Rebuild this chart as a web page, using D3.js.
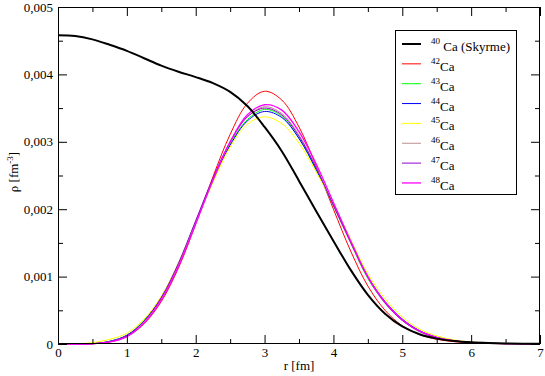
<!DOCTYPE html>
<html>
<head>
<meta charset="utf-8">
<script src="https://cdn.jsdelivr.net/npm/d3@7"></script>
<style>
  body { margin: 0; background: #fff; }
  svg { display: block; }
  svg text { font-family: "Liberation Serif", "Times New Roman", Times, Tinos, "DejaVu Serif", "Noto Serif", serif; fill: #000; }
</style>
</head>
<body>
<div id="chart"></div>
<script>
const width = 545;
const height = 376;
const margin = { top: 7, bottom: 32, left: 58, right: 5 };
const serif = "'Liberation Serif', 'Times New Roman', Times, Tinos, 'DejaVu Serif', serif";

// radius grid [fm]
const radii = [0, 0.25, 0.5, 0.75, 1, 1.25, 1.5, 1.75, 2, 2.25, 2.5, 2.75, 3, 3.25, 3.5,
    3.75, 4, 4.25, 4.5, 4.75, 5, 5.25, 5.5, 5.75, 6, 6.25, 6.5, 6.75, 7];

// densities in units of 1e-3 fm^-3
const ca40 = [4.58, 4.57, 4.52, 4.44, 4.35, 4.24, 4.13, 4.04, 3.96, 3.87, 3.74, 3.53, 3.22, 2.86, 2.42,
    1.97, 1.53, 1.10, 0.73, 0.45, 0.26, 0.145, 0.08, 0.045, 0.025, 0.014, 0.008, 0.005, 0.003];
const ca42 = [0, 0, 0.003, 0.03, 0.11, 0.30, 0.63, 1.13, 1.78, 2.48, 3.11, 3.57, 3.75, 3.62, 3.22,
    2.64, 2.00, 1.38, 0.86, 0.50, 0.27, 0.14, 0.07, 0.035, 0.017, 0.008, 0.004, 0.002, 0.001];
const ca43 = [0, 0, 0.005, 0.04, 0.13, 0.35, 0.70, 1.20, 1.82, 2.44, 2.97, 3.33, 3.48, 3.38, 3.05,
    2.58, 2.05, 1.50, 0.97, 0.61, 0.35, 0.19, 0.10, 0.05, 0.025, 0.012, 0.006, 0.003, 0.001];
const ca44 = [0, 0, 0.005, 0.04, 0.13, 0.34, 0.68, 1.18, 1.80, 2.42, 2.95, 3.31, 3.45, 3.36, 3.05,
    2.59, 2.06, 1.52, 1.00, 0.63, 0.37, 0.20, 0.10, 0.05, 0.025, 0.012, 0.006, 0.003, 0.001];
const ca45 = [0, 0.002, 0.02, 0.07, 0.16, 0.37, 0.71, 1.20, 1.80, 2.40, 2.92, 3.26, 3.37, 3.27, 2.98,
    2.55, 2.08, 1.55, 1.04, 0.67, 0.40, 0.22, 0.12, 0.06, 0.03, 0.015, 0.007, 0.003, 0.001];
const ca46 = [0, 0, 0.004, 0.035, 0.12, 0.33, 0.67, 1.17, 1.80, 2.44, 2.99, 3.37, 3.52, 3.42, 3.10,
    2.62, 2.06, 1.50, 0.98, 0.60, 0.35, 0.18, 0.09, 0.045, 0.022, 0.011, 0.005, 0.002, 0.001];
const ca47 = [0, 0, 0.004, 0.035, 0.12, 0.34, 0.69, 1.20, 1.83, 2.46, 3.00, 3.37, 3.50, 3.40, 3.08,
    2.61, 2.06, 1.51, 0.99, 0.61, 0.35, 0.19, 0.095, 0.047, 0.023, 0.011, 0.005, 0.002, 0.001];
const ca48 = [0, 0, 0.004, 0.03, 0.11, 0.31, 0.65, 1.15, 1.78, 2.43, 3.00, 3.40, 3.55, 3.47, 3.15,
    2.67, 2.10, 1.53, 1.00, 0.62, 0.36, 0.19, 0.10, 0.05, 0.024, 0.012, 0.006, 0.003, 0.001];

const massNumbers = ["40", "42", "43", "44", "45", "46", "47", "48"];
const legendSuffix = [" Ca (Skyrme)", "Ca", "Ca", "Ca", "Ca", "Ca", "Ca", "Ca"];
const xTicks = [0, 1, 2, 3, 4, 5, 6, 7];
const yTicks = [0, 1, 2, 3, 4, 5];

const series = [
    { name: "42", values: ca42, color: "#ff0000", w: 1 },
    { name: "43", values: ca43, color: "#00ff00", w: 1 },
    { name: "44", values: ca44, color: "#0000ff", w: 1 },
    { name: "45", values: ca45, color: "#ffff00", w: 1 },
    { name: "46", values: ca46, color: "#bc8f8f", w: 1 },
    { name: "47", values: ca47, color: "#9400d3", w: 1 },
    { name: "48", values: ca48, color: "#ff00ff", w: 1.3 },
    { name: "40", values: ca40, color: "#000000", w: 2 },
];
const legendColors = ["#000000", "#ff0000", "#00ff00", "#0000ff", "#ffff00", "#bc8f8f", "#9400d3", "#ff00ff"];
const legendWidths = [2, 1, 1, 1, 1, 1, 1, 1.3];

const svg = d3.select('#chart')
    .append('svg')
    .attr('width', width)
    .attr('height', height)
    .attr('font-family', serif);

const x = d3.scaleLinear()
    .domain([0, 7])
    .range([margin.left, width - margin.right]);

const y = d3.scaleLinear()
    .domain([0, 5])
    .range([height - margin.bottom, margin.top]);

const line = d3.line()
    .x((d, i) => x(radii[i]))
    .y(d => y(d))
    .curve(d3.curveCatmullRom.alpha(0.5));

svg.append("g")
    .selectAll("path")
    .data(series)
    .join("path")
        .attr("fill", "none")
        .attr("stroke", d => d.color)
        .attr("stroke-width", d => d.w)
        .attr("d", d => line(d.values));

// frame
svg.append("rect")
    .attr("x", x(0) + 0.5)
    .attr("y", y(5) + 0.5)
    .attr("width", x(7) - x(0) - 1)
    .attr("height", y(0) - y(5) - 1)
    .attr("fill", "none")
    .attr("stroke", "#000");

const minorX = d3.range(0.5, 7, 1);
const minorY = d3.range(0.5, 5, 1);
const fmtX = d3.format("d");
const fmtY = d => d === 0 ? "0" : (d / 1000).toFixed(3).replace(".", ",");

function styleAxis(g) {
    g.attr("font-family", serif).attr("font-size", 13);
    g.select(".domain").remove();
    g.selectAll(".tick line").attr("stroke", "#000");
    g.selectAll(".tick text").attr("fill", "#000").style("font-family", serif);
}

svg.append("g")
    .attr("transform", `translate(0,${y(0)})`)
    .call(d3.axisBottom(x).tickValues(xTicks).tickSize(-9).tickPadding(4).tickFormat(fmtX))
    .call(styleAxis);
svg.append("g")
    .attr("transform", `translate(0,${y(0)})`)
    .call(d3.axisBottom(x).tickValues(minorX).tickSize(-5).tickFormat(""))
    .call(styleAxis);
svg.append("g")
    .attr("transform", `translate(0,${y(5)})`)
    .call(d3.axisTop(x).tickValues(xTicks).tickSize(-9).tickFormat(""))
    .call(styleAxis);
svg.append("g")
    .attr("transform", `translate(0,${y(5)})`)
    .call(d3.axisTop(x).tickValues(minorX).tickSize(-5).tickFormat(""))
    .call(styleAxis);

svg.append("g")
    .attr("transform", `translate(${x(0)},0)`)
    .call(d3.axisLeft(y).tickValues(yTicks).tickSize(-9).tickPadding(5).tickFormat(fmtY))
    .call(styleAxis);
svg.append("g")
    .attr("transform", `translate(${x(0)},0)`)
    .call(d3.axisLeft(y).tickValues(minorY).tickSize(-5).tickFormat(""))
    .call(styleAxis);
svg.append("g")
    .attr("transform", `translate(${x(7)},0)`)
    .call(d3.axisRight(y).tickValues(yTicks).tickSize(-9).tickFormat(""))
    .call(styleAxis);
svg.append("g")
    .attr("transform", `translate(${x(7)},0)`)
    .call(d3.axisRight(y).tickValues(minorY).tickSize(-5).tickFormat(""))
    .call(styleAxis);

// axis titles
svg.append("text")
    .attr("x", (x(0) + x(7)) / 2)
    .attr("y", 370)
    .attr("text-anchor", "middle")
    .attr("font-size", "13px")
    .style("font-family", serif)
    .text("r [fm]");

const yTitle = svg.append("text")
    .attr("transform", `translate(18,172) rotate(-90)`)
    .attr("text-anchor", "middle")
    .attr("font-size", "13px")
    .style("font-family", serif);
yTitle.append("tspan").text("ρ [fm");
yTitle.append("tspan").attr("font-size", "9px").attr("dy", -5).text("-3");
yTitle.append("tspan").attr("dy", 5).text("]");

// legend
const legend = svg.append("g");
legend.append("rect")
    .attr("x", 395.5)
    .attr("y", 30.5)
    .attr("width", 121)
    .attr("height", 164)
    .attr("fill", "#fff")
    .attr("stroke", "#000");

const rows = legend.selectAll("g.row")
    .data(massNumbers)
    .join("g")
        .attr("class", "row")
        .attr("transform", (d, i) => `translate(0,${44 + i * 19.85})`);

rows.append("line")
    .attr("x1", 402)
    .attr("x2", 421)
    .attr("stroke", (d, i) => legendColors[i])
    .attr("stroke-width", (d, i) => legendWidths[i]);

const labels = rows.append("text")
    .attr("x", 431)
    .attr("y", 7)
    .attr("font-size", "13px")
    .style("font-family", serif);
labels.append("tspan").attr("font-size", "9px").attr("dy", -7).text(d => d);
labels.append("tspan").attr("dy", 7).text((d, i) => legendSuffix[i]);
</script>
</body>
</html>
